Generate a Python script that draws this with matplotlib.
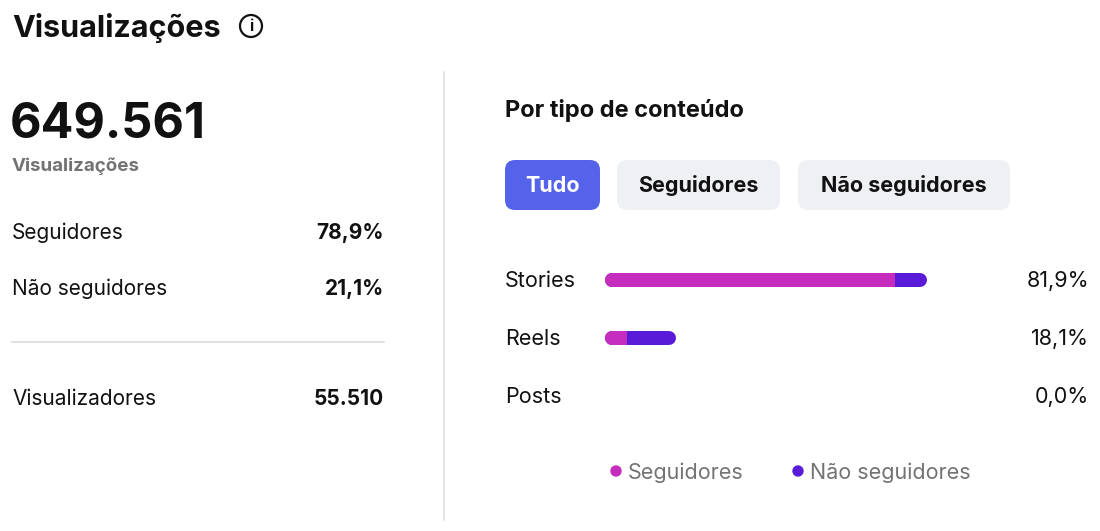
import matplotlib.pyplot as plt
from matplotlib.patches import FancyBboxPatch, Circle

plt.rcParams['font.family'] = ['Inter', 'DejaVu Sans']

total_views = "649.561"
summary_labels = ["Seguidores", "Não seguidores"]
summary_values = ["78,9%", "21,1%"]
viewers = "55.510"

content_types = ["Stories", "Reels", "Posts"]
seguidores_pct = [73.8, 5.6, 0.0]
nao_seguidores_pct = [8.1, 12.5, 0.0]
total_labels = ["81,9%", "18,1%", "0,0%"]
tabs = ["Tudo", "Seguidores", "Não seguidores"]

MAGENTA = "#C42DBE"
PURPLE = "#5A1BD8"
DARK = "#111111"
GRAY = "#737373"

fig = plt.figure(figsize=(11, 5.31), dpi=100)
bg = fig.add_axes([0, 0, 1, 1])
bg.set_xlim(0, 1100)
bg.set_ylim(531, 0)
bg.axis("off")

# header
bg.text(12, 28, "Visualizações", fontsize=22, fontweight="bold", color=DARK, va="center")
bg.add_patch(Circle((251, 26), 11, fill=False, lw=1.6, color=DARK))
bg.text(251, 26.5, "i", fontsize=11, fontweight="bold", color=DARK, ha="center", va="center")

# left panel
bg.text(10, 125, total_views, fontsize=35, fontweight="bold", color=DARK, va="center")
bg.text(12, 166, "Visualizações", fontsize=13.5, fontweight="bold", color=GRAY, va="center")
for i, (lab, val) in enumerate(zip(summary_labels, summary_values)):
    y = 233 + i * 56
    bg.text(12, y, lab, fontsize=15, color=DARK, va="center")
    bg.text(384, y, val, fontsize=15, fontweight="bold", color=DARK, va="center", ha="right")
bg.plot([12, 384], [342, 342], color="#DADADA", lw=1.2)
bg.text(12, 399, "Visualizadores", fontsize=15, color=DARK, va="center")
bg.text(384, 399, viewers, fontsize=15, fontweight="bold", color=DARK, va="center", ha="right")
bg.plot([444, 444], [72, 520], color="#E2E2E2", lw=1.2)

# right panel
bg.text(505, 111, "Por tipo de conteúdo", fontsize=17, fontweight="bold", color=DARK, va="center")
tab_x = [505, 617, 798]
tab_w = [95, 163, 212]
for i, (t, x, w) in enumerate(zip(tabs, tab_x, tab_w)):
    active = i == 0
    bg.add_patch(FancyBboxPatch((x, 160), w, 50, boxstyle="round,pad=0,rounding_size=10",
                                fc="#5562EA" if active else "#EFF0F4", ec="none"))
    bg.text(x + w / 2, 186, t, fontsize=15.5, fontweight="bold",
            color="white" if active else DARK, ha="center", va="center")

for i, (lab, val) in enumerate(zip(content_types, total_labels)):
    y = 281 + i * 58
    bg.text(505, y, lab, fontsize=15.5, color=DARK, va="center")
    bg.text(1089, y, val, fontsize=15.5, color=DARK, va="center", ha="right")

# bars
bx = fig.add_axes([605 / 1100, 0, 393 / 1100, 1])
bx.set_xlim(0, 100)
bx.set_ylim(531, 0)
bx.axis("off")
r = 7 / 3.93
lw = 14 * 72 / 100
for i, (s, n) in enumerate(zip(seguidores_pct, nao_seguidores_pct)):
    y = 280 + i * 58
    tot = s + n
    if tot <= 0:
        continue
    bx.plot([r, tot - r], [y, y], color=PURPLE, lw=lw, solid_capstyle="round")
    if s > 0:
        bx.plot([r, max(r, s - r)], [y, y], color=MAGENTA, lw=lw, solid_capstyle="round")
        bx.plot([r, s], [y, y], color=MAGENTA, lw=lw, solid_capstyle="butt")

# legend
for x, lab, c in [(616, "Seguidores", MAGENTA), (798, "Não seguidores", PURPLE)]:
    bg.add_patch(Circle((x, 471), 5, color=c))
    bg.text(x + 12, 473, lab, fontsize=15.5, color=GRAY, va="center")

fig.savefig("out.png", dpi=100, facecolor="white")
